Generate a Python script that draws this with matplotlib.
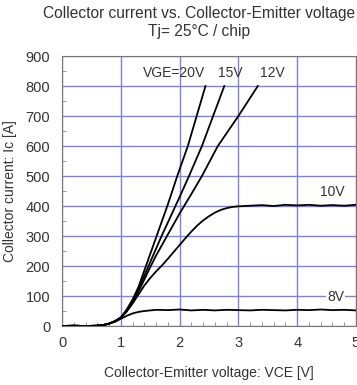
import matplotlib.pyplot as plt
from matplotlib.ticker import MultipleLocator

plt.rcParams['font.family'] = ['Liberation Sans', 'DejaVu Sans']

# VCE [V] / Ic [A]
low_v = [0.0, 0.2, 0.4, 0.6, 0.7, 0.8, 0.9, 1.0]
low_i = [0, 1, 0, 1, 3, 8, 16, 28]

vce_20 = low_v + [1.1, 1.2, 1.3, 1.4, 1.5, 1.6, 1.8, 1.96, 2.14, 2.29, 2.44]
ic_20 = low_i + [55, 88, 130, 185, 240, 295, 405, 500, 600, 700, 800]

vce_15 = low_v + [1.1, 1.2, 1.3, 1.4, 1.5, 1.6, 1.7, 1.8, 2.0, 2.16, 2.38, 2.57, 2.76]
ic_15 = low_i + [52, 85, 122, 168, 213, 258, 303, 345, 430, 500, 600, 700, 800]

vce_12 = low_v + [1.1, 1.2, 1.3, 1.4, 1.5, 1.6, 1.8, 2.0, 2.2, 2.38, 2.65, 3.0, 3.33]
ic_12 = low_i + [50, 82, 115, 155, 196, 235, 305, 375, 440, 500, 600, 700, 800]

vce_10 = low_v + [1.1, 1.2, 1.3, 1.4, 1.5, 1.6, 1.7, 1.8, 1.9, 2.0, 2.1, 2.2, 2.3,
                  2.4, 2.5, 2.6, 2.7, 2.8, 2.9, 3.0, 3.2, 3.4, 3.6, 3.8, 4.0,
                  4.2, 4.4, 4.6, 4.8, 5.0]
ic_10 = low_i + [48, 75, 105, 135, 160, 182, 202, 224, 247, 270, 293, 315, 335,
                 352, 366, 378, 387, 393, 397, 399, 401, 403, 400, 404, 402,
                 404, 401, 403, 401, 404]

vce_8 = [0.0, 0.2, 0.4, 0.6, 0.7, 0.8, 0.9, 1.0, 1.1, 1.2, 1.3, 1.4, 1.5, 1.6,
         1.8, 2.0, 2.2, 2.4, 2.6, 2.8, 3.0, 3.2, 3.4, 3.6, 3.8, 4.0, 4.2, 4.4,
         4.6, 4.8, 5.0]
ic_8 = [0, 1, 0, 1, 3, 8, 14, 24, 34, 42, 47, 50, 52, 54,
        53, 55, 52, 54, 52, 54, 53, 52, 54, 53, 52, 54, 53, 55,
        53, 54, 52]

fig = plt.figure(figsize=(3.57, 3.85), dpi=100)
ax = fig.add_axes([0.1737, 0.1532, 0.8235, 0.7013])

for v, i in [(vce_20, ic_20), (vce_15, ic_15), (vce_12, ic_12),
             (vce_10, ic_10), (vce_8, ic_8)]:
    ax.plot(v, i, color='black', lw=1.3, zorder=3)

ax.set_xlim(0, 5)
ax.set_ylim(0, 900)
ax.xaxis.set_major_locator(MultipleLocator(1))
ax.yaxis.set_major_locator(MultipleLocator(100))
ax.xaxis.set_minor_locator(MultipleLocator(0.2))
ax.yaxis.set_minor_locator(MultipleLocator(50))
ax.tick_params(which='major', length=0, labelsize=10.5, colors='#333333')
ax.tick_params(axis='y', which='major', pad=8.5)
ax.tick_params(axis='x', which='major', pad=7)
ax.tick_params(which='minor', direction='in', length=3, color='#888888')
ax.grid(True, which='major', color='#8080e0', lw=1.0, zorder=1)
for s in ax.spines.values():
    s.set_color('#777777')
    s.set_linewidth(0.8)

ax.set_xlabel('Collector-Emitter voltage: VCE [V]', fontsize=10, color='#333333', labelpad=12)
ax.set_ylabel('Collector current: Ic [A]', fontsize=10, color='#333333', labelpad=6)

lab = dict(fontsize=10, color='#333333', ha='center', va='center', zorder=4)
ax.text(1.91, 843, 'VGE=20V', **lab)
ax.text(2.86, 843, '15V', **lab)
ax.text(3.57, 843, '12V', **lab)
ax.text(4.59, 448, '10V', **lab)
ax.text(4.65, 98, '8V', bbox=dict(facecolor='white', edgecolor='none', pad=1), **lab)

fig.text(0.557, 0.966, 'Collector current vs. Collector-Emitter voltage',
         fontsize=11.2, color='#333333', ha='center', va='center')
fig.text(0.557, 0.917, 'Tj= 25°C / chip',
         fontsize=11.2, color='#333333', ha='center', va='center')

fig.savefig('out.png', dpi=100)
